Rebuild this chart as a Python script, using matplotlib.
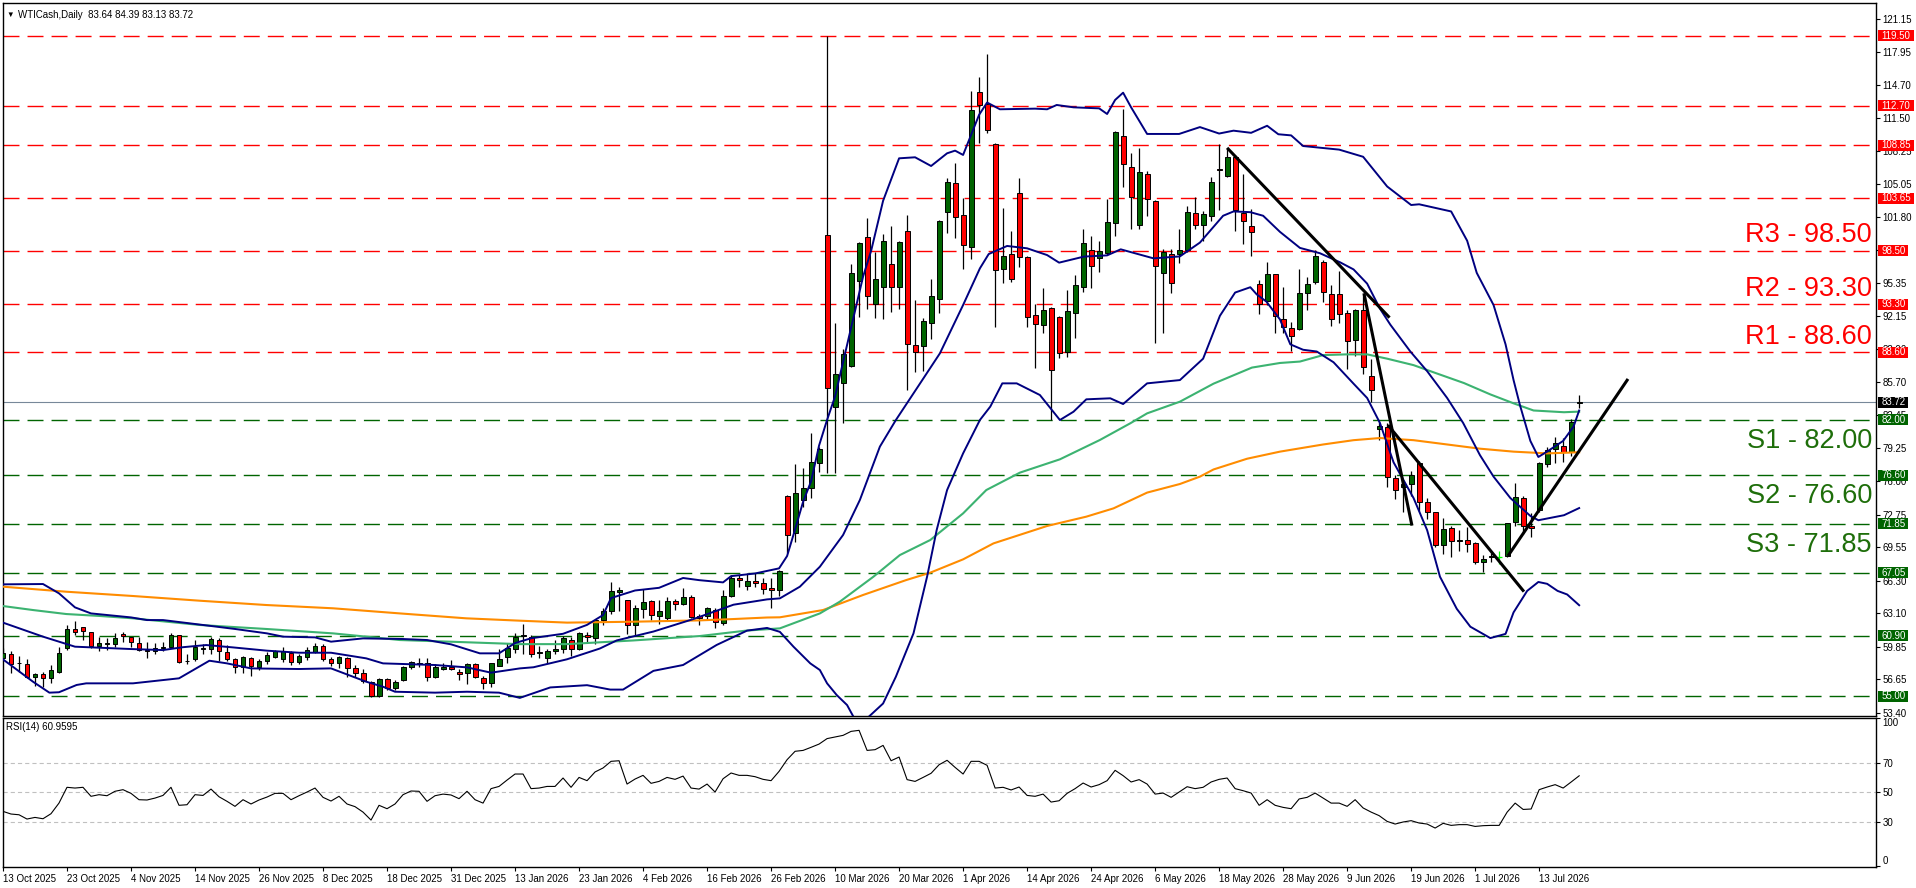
import matplotlib
matplotlib.use('Agg')
import matplotlib.pyplot as plt
import matplotlib.patches as patches
import numpy as np

plt.rcParams['font.family'] = ['Liberation Sans', 'DejaVu Sans']
plt.rcParams['lines.scale_dashes'] = False

# daily OHLC, one entry per bar (bar 0 = 13 Oct 2025)
opens = [58.78, 59.1, 58.3, 58.2, 56.9, 57.2, 56.82, 57.4, 59.69, 61.54,
         61.8, 61.25, 59.95, 60.1, 60.08, 61.05, 60.76, 60.17, 59.52, 59.45,
         59.7, 59.85, 60.95, 58.5, 58.6, 59.65, 59.6, 60.5, 59.3, 58.6,
         57.9, 58.7, 57.9, 58.42, 58.87, 58.68, 59.26, 58.38, 58.87, 59.36,
         59.9, 58.6, 58.22, 58.77, 57.73, 57.3, 56.43, 55.03, 56.66, 55.78,
         56.6, 57.83, 58.12, 58.28, 56.85, 57.7, 57.83, 57.4, 57.25, 58.12,
         56.75, 56.27, 58.0, 58.87, 59.6, 60.87, 60.8, 59.2, 58.7, 59.4,
         59.6, 60.54, 59.58, 61.0, 60.68, 62.42, 63.3, 65.2, 64.38, 61.98,
         63.51, 64.3, 62.85, 62.63, 64.3, 64.03, 64.69, 62.8, 62.85, 63.42,
         62.12, 64.82, 66.56, 65.78, 66.22, 66.05, 65.56, 65.34, 74.55, 70.98,
         74.2, 75.35, 77.82, 100.06, 83.23, 85.57, 87.3, 95.6, 99.83, 93.29,
         94.95, 97.2, 95.02, 100.42, 89.32, 89.25, 91.5, 93.78, 102.34, 105.1,
         101.98, 98.92, 114.03, 112.83, 108.92, 96.71, 98.17, 104.13, 97.95, 92.21,
         91.24, 92.9, 92.02, 88.6, 92.41, 94.95, 98.6, 97.84, 98.27, 101.2,
         109.7, 106.7, 101.01, 105.99, 103.38, 96.32, 98.17, 98.21, 98.6, 102.18,
         101.07, 101.94, 106.55, 105.85, 107.7, 102.22, 100.96, 95.3, 93.63, 96.22,
         91.89, 91.02, 90.88, 94.44, 95.49, 97.47, 94.33, 94.33, 92.41, 89.78,
         92.76, 86.31, 81.07, 81.35, 76.29, 75.44, 75.72, 77.79, 73.95, 72.97,
         69.83, 71.4, 70.2, 70.25, 70.0, 68.09, 68.6, 68.6, 68.7, 72.0,
         74.4, 71.63, 73.2, 77.69, 79.12, 79.45, 78.9, 83.64]
highs = [59.7, 59.45, 58.9, 58.6, 57.25, 57.4, 58.05, 59.8, 62.0, 62.35,
         61.8, 61.25, 60.83, 60.65, 61.15, 61.3, 60.76, 60.83, 60.33, 60.17,
         60.33, 61.2, 60.95, 59.13, 60.5, 60.08, 60.76, 60.66, 60.0, 58.7,
         58.93, 58.87, 58.6, 59.36, 59.52, 59.85, 59.45, 59.13, 59.85, 60.17,
         60.08, 58.8, 58.93, 58.87, 58.06, 57.63, 56.53, 56.75, 56.75, 56.6,
         57.96, 58.48, 58.7, 58.7, 58.15, 58.28, 58.55, 57.63, 58.3, 58.28,
         57.02, 58.28, 59.58, 60.17, 61.15, 62.1, 60.98, 59.93, 59.67, 60.5,
         60.89, 60.8, 61.33, 61.24, 62.5, 63.6, 66.2, 65.69, 64.38, 63.95,
         65.47, 64.38, 64.38, 64.73, 64.47, 65.6, 64.9, 63.07, 63.73, 63.6,
         65.34, 66.87, 66.87, 67.09, 67.0, 66.56, 66.56, 67.35, 74.7, 77.7,
         77.3, 80.75, 79.39, 119.5, 91.43, 88.9, 97.23, 99.4, 101.69, 98.43,
         100.2, 100.94, 99.5, 102.02, 93.71, 91.99, 95.73, 101.53, 105.6, 107.06,
         103.64, 114.13, 115.53, 117.74, 109.0, 102.67, 100.48, 105.66, 98.0, 93.32,
         94.85, 93.06, 92.18, 94.69, 96.16, 100.65, 99.96, 99.47, 103.61, 110.22,
         112.37, 108.1, 108.59, 106.31, 103.48, 98.66, 98.66, 100.65, 102.93, 103.74,
         102.36, 105.71, 108.99, 108.57, 107.87, 106.06, 102.64, 95.66, 97.47, 96.29,
         95.03, 91.54, 96.77, 95.94, 98.62, 97.58, 95.14, 96.53, 92.69, 92.87,
         94.33, 87.91, 81.77, 81.7, 76.64, 76.12, 76.99, 78.03, 74.37, 73.04,
         72.45, 71.65, 71.23, 71.58, 70.11, 68.79, 68.96, 69.2, 71.95, 75.8,
         74.6, 72.87, 77.9, 79.4, 80.3, 80.2, 82.1, 84.39]
lows = [58.5, 57.3, 57.4, 56.75, 56.0, 55.95, 56.3, 57.25, 59.5, 61.0,
        60.5, 59.7, 59.45, 59.5, 59.8, 60.33, 59.8, 59.45, 58.7, 59.13,
        59.45, 59.7, 58.28, 58.12, 58.48, 59.13, 59.13, 58.45, 58.45, 57.3,
        57.3, 57.02, 57.57, 58.15, 58.7, 58.38, 58.06, 58.15, 58.55, 59.2,
        58.48, 57.96, 57.73, 56.92, 56.92, 56.27, 54.9, 54.97, 55.6, 55.6,
        56.53, 57.63, 57.9, 56.53, 56.75, 57.57, 57.57, 56.6, 56.17, 56.75,
        55.68, 55.88, 57.98, 58.3, 59.26, 59.15, 58.8, 58.7, 58.3, 59.15,
        59.2, 58.93, 59.5, 60.24, 60.1, 61.98, 63.08, 63.3, 61.12, 60.9,
        62.64, 62.42, 62.1, 62.42, 63.42, 63.95, 62.63, 61.98, 62.42, 61.68,
        61.98, 64.73, 65.69, 65.34, 65.69, 65.0, 63.6, 64.82, 68.97, 70.1,
        73.5, 74.34, 76.94, 76.78, 76.78, 81.73, 87.2, 92.08, 92.87, 91.92,
        91.89, 92.54, 92.87, 84.92, 86.71, 86.81, 89.87, 92.41, 100.22, 99.8,
        96.71, 97.69, 109.02, 110.0, 91.11, 95.34, 95.5, 96.97, 91.04, 87.04,
        90.46, 81.99, 88.02, 88.11, 89.97, 94.53, 94.85, 96.42, 98.1, 100.0,
        104.78, 100.6, 100.68, 101.95, 89.48, 90.52, 94.43, 97.3, 98.37, 100.62,
        99.43, 101.42, 102.46, 105.71, 100.47, 99.22, 98.03, 92.34, 93.22, 90.53,
        90.49, 88.75, 90.77, 92.69, 95.31, 93.56, 91.19, 91.47, 87.0, 88.26,
        86.51, 83.79, 80.02, 75.49, 74.3, 73.04, 74.54, 73.15, 72.35, 69.55,
        68.86, 68.61, 69.2, 69.13, 67.91, 67.11, 68.09, 67.91, 68.6, 71.6,
        70.9, 70.6, 73.0, 77.43, 77.76, 77.9, 78.5, 83.13]
closes = [59.2, 58.2, 58.25, 56.85, 57.2, 56.82, 57.57, 59.2, 61.54, 61.25,
          61.35, 59.95, 60.17, 60.2, 60.66, 60.9, 60.27, 59.52, 59.4, 59.7,
          59.85, 60.95, 58.38, 58.45, 59.78, 59.7, 60.6, 59.43, 58.68, 57.83,
          58.8, 57.96, 58.42, 59.03, 59.4, 59.4, 58.38, 58.93, 59.52, 59.9,
          58.6, 58.22, 58.87, 57.73, 57.3, 56.5, 55.03, 56.66, 55.85, 56.43,
          57.9, 58.38, 58.3, 56.85, 57.83, 57.9, 57.63, 57.18, 58.12, 56.85,
          56.27, 58.22, 58.64, 59.7, 60.83, 61.0, 59.15, 59.3, 59.45, 59.6,
          60.68, 59.58, 61.2, 60.76, 62.42, 63.3, 65.25, 65.4, 61.98, 63.6,
          64.25, 62.94, 63.3, 64.3, 64.03, 64.73, 62.72, 62.64, 63.6, 62.29,
          64.82, 66.56, 66.35, 66.22, 66.05, 65.47, 65.34, 67.22, 70.71, 74.86,
          75.35, 77.9, 79.13, 85.08, 86.45, 88.4, 96.32, 99.25, 94.1, 95.73,
          99.5, 94.95, 99.35, 89.41, 88.66, 91.66, 94.1, 101.43, 105.2, 101.79,
          99.05, 112.27, 112.73, 110.32, 96.64, 98.01, 95.73, 97.95, 92.02, 91.37,
          92.7, 86.88, 88.5, 92.67, 95.18, 99.25, 97.03, 98.5, 101.33, 110.09,
          106.96, 103.8, 106.18, 103.55, 97.07, 98.37, 95.34, 98.6, 102.28, 101.04,
          102.11, 105.26, 106.37, 107.7, 102.53, 101.42, 100.37, 93.3, 96.29, 92.1,
          91.12, 90.18, 94.44, 95.31, 97.99, 94.54, 91.82, 92.34, 89.72, 92.76,
          87.21, 84.94, 81.42, 76.46, 75.14, 75.72, 76.64, 73.95, 72.97, 69.76,
          71.3, 70.18, 70.3, 69.9, 68.09, 68.44, 68.7, 68.6, 71.9, 74.5,
          71.6, 71.47, 77.76, 79.06, 79.71, 78.9, 81.82, 83.72]

# Bollinger bands at these bar positions
bb_up_x = [0, 5, 7, 9, 11, 16, 18, 20, 25, 29, 33, 35, 39, 41, 45, 50, 53, 56, 59.6, 62,
           64, 66, 70, 73, 75, 76, 79, 82, 85, 87, 90, 91, 94, 97, 98, 99, 100, 101, 102,
           103, 104, 106, 107.5, 108.5, 110, 112, 114, 116, 118, 119, 120, 122, 123, 124.6,
           129, 130.5, 131.7, 133.8, 137, 138, 139, 140, 141, 143, 147, 149.6, 152, 153.8,
           156, 158, 159.4, 161, 162.5, 167, 170, 173, 176, 177, 181, 183, 184.2, 186.3,
           187.8, 188.8, 189.6, 190.9, 191.9, 193, 195, 196.3, 197]
bb_up = [65.94, 65.97, 65.06, 63.69, 63.1, 62.71, 62.45, 62.45, 61.97, 61.58, 61.15, 60.83,
         60.76, 60.34, 60.66, 60.6, 60.5, 60.08, 59.2, 59.2, 60.2, 60.67, 61.11, 61.98, 62.94,
         64.6, 65.34, 65.6, 66.56, 66.35, 66.13, 66.74, 67.0, 67.5, 68.7, 71.3, 74.0, 76.0,
         79.5, 82.0, 84.3, 91.0, 96.0, 98.5, 103.4, 107.55, 107.65, 106.8, 108.04, 108.3,
         107.88, 111.8, 113.0, 112.34, 112.4, 112.34, 112.76, 112.53, 112.43, 111.88, 113.25,
         113.96, 112.53, 109.93, 109.93, 110.6, 109.97, 110.25, 110.04, 110.73, 109.9, 109.79,
         108.75, 108.4, 107.7, 104.8, 102.99, 103.06, 102.36, 99.5, 96.36, 93.22, 89.38,
         85.89, 83.44, 79.95, 78.38, 78.91, 79.95, 81.35, 82.92]
bb_mid_x = [0, 5, 9, 16, 20, 22.5, 25.4, 28.75, 33, 37, 41, 45.4, 47.5, 54, 58, 61, 64.6,
            66.3, 70.5, 74.6, 76.7, 81.3, 86.3, 91.3, 95.5, 97.1, 99.6, 102.1, 105, 107.1,
            109.6, 111.6, 114.4, 117.1, 120, 122.1, 123.2, 125.5, 128, 130.5, 132, 135.1,
            138, 139.7, 143.8, 147.1, 149.6, 152.5, 153.8, 155.9, 157.5, 159.6, 162.1, 164.6,
            167.1, 168.8, 170.5, 172.1, 173.4, 175.9, 178, 180.5, 182.5, 184.6, 186.3, 188.4,
            190.9, 191.9, 195.1, 197]
bb_mid = [62.2, 60.83, 59.85, 59.62, 59.52, 59.8, 60.01, 59.78, 59.46, 59.26, 59.26, 58.71,
          58.22, 58.06, 57.83, 57.31, 57.73, 57.84, 58.62, 59.67, 60.46, 61.33, 62.55, 63.95,
          64.47, 64.57, 65.71, 67.66, 70.76, 74.18, 79.39, 81.99, 85.3, 88.5, 93.22, 96.8,
          98.2, 98.99, 98.76, 98.1, 97.36, 97.95, 98.07, 98.66, 97.78, 97.97, 99.32, 101.94,
          102.36, 102.29, 101.94, 100.37, 98.8, 98.28, 97.4, 96.7, 95.31, 92.87, 91.3, 88.68,
          86.76, 84.14, 81.7, 78.56, 76.46, 74.37, 72.62, 72.2, 72.69, 73.39]
bb_low_x = [0, 3.75, 5.8, 7, 9.2, 10.4, 16.25, 22, 25.8, 28, 31, 37, 41, 45.4, 47.5, 49, 54,
            58, 62, 64.6, 68.4, 73, 75.9, 77.5, 81.3, 85, 89.2, 93, 95.5, 97.1, 98.8, 100.9,
            102.1, 103, 104.2, 105.5, 106.3, 107.3, 108.2, 110, 111.6, 113.8, 115.5, 116.7,
            118, 120, 122.1, 123.4, 124.9, 126.7, 129.6, 132.1, 133.8, 135.4, 138.4, 140, 143,
            147.1, 150, 152.1, 154, 155.9, 156.7, 157.9, 159.6, 160.9, 162.5, 164.2, 166.3,
            168.8, 170.5, 172.1, 173.8, 176.3, 178, 179.6, 181.7, 183.4, 185.9, 187.8, 188.8,
            190.5, 191.9, 193, 194.3, 195.5, 197]
bb_low = [58.61, 56.43, 55.36, 55.4, 56.11, 56.27, 56.27, 56.76, 58.48, 58.22, 57.73, 57.67,
          57.73, 56.43, 55.94, 55.45, 55.36, 55.45, 55.36, 54.85, 55.87, 56.09, 55.66, 55.66,
          57.49, 58.06, 60.02, 61.42, 61.68, 61.3, 59.85, 58.22, 57.57, 56.27, 55.13, 54.15,
          53.0, 52.3, 53.0, 54.3, 56.92, 61.15, 66.69, 71.25, 75.15, 78.73, 81.99, 83.3, 85.57,
          85.57, 84.43, 81.99, 82.8, 84.01, 84.11, 83.55, 85.57, 85.89, 87.98, 92.17, 94.44,
          94.96, 94.26, 93.56, 91.82, 89.38, 88.85, 88.68, 87.63, 85.54, 84.14, 81.7, 77.86,
          74.37, 71.23, 66.69, 63.55, 61.8, 60.69, 61.1, 63.2, 65.3, 66.17, 65.99, 65.3, 64.95,
          63.9]

# moving averages
ma_green_x = [0, 3.75, 7.9, 12.1, 16.25, 24.6, 32.9, 41.25, 45.4, 49.6, 55.8, 64.6, 70.5,
              78.8, 87.1, 92.9, 97.1, 102.1, 104.6, 108.8, 112.1, 115.9, 120, 122.9, 127.1,
              132.1, 137.1, 140.9, 143, 147.1, 151.3, 156.1, 159.6, 162.1, 165, 167.9, 170.5,
              173, 176.3, 178.8, 182.6, 185.9, 188.8, 191.3, 195.1, 197]
ma_green = [63.82, 63.43, 63.04, 62.85, 62.62, 61.97, 61.58, 61.15, 60.83, 60.5, 60.34, 60.1,
            60.1, 60.46, 60.89, 61.42, 61.64, 63.1, 64.25, 66.69, 68.8, 70.27, 72.87, 75.15,
            76.85, 78.15, 80.04, 81.67, 82.64, 83.78, 85.54, 87.11, 87.56, 87.7, 88.33, 88.4,
            88.4, 87.98, 87.35, 86.65, 85.6, 84.49, 83.62, 82.92, 82.75, 82.81]
ma_orange_x = [0, 7.9, 16.25, 24.6, 32.9, 41.25, 49.6, 57.9, 64.6, 70.5, 78.8, 87.1, 91.3,
               95.5, 97.1, 102.5, 107.5, 112.9, 115.9, 120, 123.8, 130.5, 135.4, 138.8, 143,
               147.1, 149.6, 151.3, 155.5, 159.6, 165, 168.8, 172.1, 176.3, 180.5, 184.6,
               188.8, 193, 197]
ma_orange = [65.71, 65.22, 64.8, 64.34, 63.92, 63.6, 63.1, 62.62, 62.39, 62.2, 62.29, 62.42,
             62.55, 62.7, 62.72, 63.43, 64.9, 66.36, 67.08, 68.38, 69.94, 71.64, 72.55, 73.36,
             74.9, 75.74, 76.46, 77.16, 78.21, 78.9, 79.6, 80.02, 80.23, 80.02, 79.6, 79.19,
             78.9, 78.73, 78.84]

# trend lines drawn on the chart: (bar, price) end points
trend_lines = [((153.0, 108.57), (173.3, 91.99)),
               ((170.1, 94.37), (176.1, 71.68)),
               ((173.1, 81.5), (190.1, 65.23)),
               ((188.1, 68.71), (203.1, 86.0))]

rsi = [36.9, 35.1, 34.6, 31.7, 32.8, 31.9, 35.3, 42.5, 53.2, 52.7,
       53.2, 47.1, 48.2, 47.5, 50.5, 51.6, 49.1, 44.8, 44.6, 45.9,
       47.7, 53.2, 41.0, 41.4, 48.2, 47.7, 52.0, 46.8, 43.7, 40.3,
       44.8, 41.9, 44.6, 46.6, 49.1, 49.1, 44.8, 47.5, 50.0, 52.7,
       46.4, 43.9, 47.1, 41.9, 40.1, 36.4, 31.0, 41.0, 38.7, 41.9,
       48.2, 50.7, 50.5, 43.7, 47.5, 48.6, 48.0, 45.5, 50.5, 44.8,
       42.5, 52.3, 53.8, 58.1, 62.2, 62.2, 52.3, 52.7, 53.8, 53.8,
       59.5, 53.2, 59.9, 57.7, 63.6, 66.3, 70.8, 71.2, 55.4, 58.8,
       61.3, 55.9, 57.2, 59.9, 58.6, 60.8, 52.7, 52.0, 55.4, 50.0,
       59.0, 62.9, 61.3, 61.3, 60.4, 58.6, 57.7, 64.0, 71.9, 77.6,
       78.2, 80.3, 82.5, 86.2, 87.3, 88.4, 91.1, 91.8, 78.2, 78.7,
       81.6, 71.2, 73.7, 58.4, 57.2, 59.9, 62.7, 68.5, 71.5, 66.7,
       62.2, 70.8, 70.8, 68.1, 52.7, 53.2, 51.4, 53.4, 47.7, 47.1,
       48.6, 43.2, 44.1, 49.1, 52.3, 56.1, 53.4, 55.0, 57.7, 64.7,
       61.1, 56.8, 58.4, 55.4, 48.6, 49.3, 46.4, 50.0, 53.6, 52.3,
       53.2, 56.8, 58.6, 59.5, 52.3, 50.9, 49.3, 41.0, 44.8, 41.0,
       39.6, 38.7, 45.3, 46.4, 49.3, 45.9, 42.5, 42.5, 40.3, 44.8,
       39.2, 36.4, 34.0, 30.1, 28.3, 29.7, 30.6, 29.0, 28.3, 25.6,
       28.8, 27.4, 27.9, 27.9, 26.7, 27.2, 27.4, 27.4, 36.4, 42.5,
       38.2, 38.5, 51.6, 53.4, 55.0, 52.7, 56.8, 61.0]

resistance = [119.50, 112.70, 108.85, 103.65, 98.50, 93.30, 88.60]
support = [82.00, 76.60, 71.85, 67.05, 60.90, 55.00]
r_labels = {'R3': 98.50, 'R2': 93.30, 'R1': 88.60}
s_labels = {'S1': 82.00, 'S2': 76.60, 'S3': 71.85}
last_price = 83.72

price_ticks = [53.40, 56.65, 59.85, 63.10, 66.30, 69.55, 72.75, 76.00, 79.25, 82.45, 85.70,
               88.90, 92.15, 95.35, 98.60, 101.80, 105.05, 108.25, 111.50, 114.70, 117.95, 121.15]
date_labels = ['13 Oct 2025', '23 Oct 2025', '4 Nov 2025', '14 Nov 2025', '26 Nov 2025',
               '8 Dec 2025', '18 Dec 2025', '31 Dec 2025', '13 Jan 2026', '23 Jan 2026',
               '4 Feb 2026', '16 Feb 2026', '26 Feb 2026', '10 Mar 2026', '20 Mar 2026',
               '1 Apr 2026', '14 Apr 2026', '24 Apr 2026', '6 May 2026', '18 May 2026',
               '28 May 2026', '9 Jun 2026', '19 Jun 2026', '1 Jul 2026', '13 Jul 2026']

RED = '#ff0000'
DGREEN = '#006400'
TXT_GREEN = '#1e6e0a'
NAVY = '#000080'

W, H = 1916, 888
fig = plt.figure(figsize=(W / 100, H / 100), dpi=100)
fig.patch.set_facecolor('white')

left, right = 2.5, 1876
ax = fig.add_axes([left / W, 1 - 716 / H, (right - left) / W, (716 - 3) / H])
rax = fig.add_axes([left / W, 1 - 867.3 / H, (right - left) / W, (867.3 - 717.5) / H])

xlim = (-0.06, 234.1)
ax.set_xlim(*xlim)
ax.set_ylim(53.08, 122.72)
rax.set_xlim(*xlim)
rax.set_ylim(-1.0, 100.5)

o = np.array(opens)
h = np.array(highs)
l = np.array(lows)
c = np.array(closes)
idx = np.arange(len(c))
up = c > o
dn = c < o
flat = c == o

# level lines
for lv in resistance:
    ax.axhline(lv, color=RED, lw=1.0, dashes=(11.5, 5.8), zorder=2)
for lv in support:
    ax.axhline(lv, color=DGREEN, lw=1.0, dashes=(11.5, 5.8), zorder=2)
ax.axhline(last_price, color='#778899', lw=0.8, zorder=2)

# candles
ax.vlines(idx[~flat], l[~flat], h[~flat], color='black', lw=0.9, zorder=3)
ax.vlines(idx[flat], l[flat], h[flat], color='#00ff00', lw=0.9, zorder=3)
ax.hlines(o[flat], idx[flat] - 0.35, idx[flat] + 0.35, color='#00ff00', lw=0.9, zorder=3)
ax.bar(idx[up], (c - o)[up], bottom=o[up], width=0.62, color=DGREEN,
       edgecolor='black', lw=0.7, zorder=4)
ax.bar(idx[dn], (o - c)[dn], bottom=c[dn], width=0.62, color=RED,
       edgecolor='black', lw=0.7, zorder=4)

# indicators
ax.plot(ma_orange_x, ma_orange, color='#ff8c00', lw=1.5, zorder=5)
ax.plot(ma_green_x, ma_green, color='#3cb371', lw=1.5, zorder=5)
ax.plot(bb_up_x, bb_up, color=NAVY, lw=1.4, zorder=5)
ax.plot(bb_mid_x, bb_mid, color=NAVY, lw=1.4, zorder=5)
ax.plot(bb_low_x, bb_low, color=NAVY, lw=1.4, zorder=5)

for (x0, y0), (x1, y1) in trend_lines:
    ax.plot([x0, x1], [y0, y1], color='black', lw=2.2, solid_capstyle='butt', zorder=6)

# R / S labels
for name, lv in r_labels.items():
    ax.text(233.6, lv + 0.85, f'{name} - {lv:.2f}', color=RED, fontsize=19.5,
            ha='right', va='baseline', zorder=7)
for name, lv in s_labels.items():
    ax.text(233.6, lv - 2.72, f'{name} - {lv:.2f}', color=TXT_GREEN, fontsize=19.5,
            ha='right', va='baseline', zorder=7)

# price axis
for a in (ax, rax):
    for s in a.spines.values():
        s.set_color('black')
        s.set_linewidth(1.0)
    a.yaxis.tick_right()
    a.tick_params(axis='y', direction='out', length=3, width=0.8, pad=1.5,
                  labelsize=7, colors='black')

ax.set_xticks([])
ax.set_yticks(price_ticks)
ax.set_yticklabels([f'{t:.2f}' for t in price_ticks])

# price tags on the axis
axw = right - left
def tag(a, y, text, color, hpx=11):
    wpx = 5.9 * len(text) + 1
    a.add_patch(patches.Rectangle((1 + 1.5 / axw, y - hpx * 0.0977 / 2), wpx / axw, hpx * 0.0977,
                                  transform=a.get_yaxis_transform(), clip_on=False,
                                  facecolor=color, edgecolor='none', zorder=10))
    a.text(1 + 5.5 / axw, y, text, transform=a.get_yaxis_transform(), clip_on=False,
           color='white', fontsize=7, ha='left', va='center', zorder=11)

for lv in resistance:
    tag(ax, lv, f'{lv:.2f}', RED)
for lv in support:
    tag(ax, lv, f'{lv:.2f}', DGREEN)
tag(ax, last_price, f'{last_price:.2f}', 'black')

# RSI panel
for lv in (70, 50, 30):
    rax.axhline(lv, color='#c0c0c0', lw=0.8, dashes=(3, 2.2), zorder=1)
rax.plot(idx, rsi, color='black', lw=0.8, zorder=3)
rax.set_yticks([0, 30, 50, 70, 100])
rlabels = rax.set_yticklabels(['0', '30', '50', '70', '100'])
rlabels[0].set_va('bottom')
rlabels[-1].set_va('top')

tick_pos = np.arange(len(date_labels)) * 8
rax.set_xticks(tick_pos)
xl = rax.set_xticklabels(date_labels)
for t in xl:
    t.set_ha('left')
rax.tick_params(axis='x', direction='out', length=3, width=0.8, pad=1.5,
                labelsize=7, colors='black')

# header texts
fig.text(6 / W, 1 - 15 / H, '\u25bc', fontsize=5.5, va='center', ha='left')
fig.text(18 / W, 1 - 15 / H, 'WTICash,Daily  83.64 84.39 83.13 83.72', fontsize=7,
         va='center', ha='left')
fig.text(6 / W, 1 - 727 / H, 'RSI(14) 60.9595', fontsize=7, va='center', ha='left')

fig.savefig('out.png', dpi=100)
